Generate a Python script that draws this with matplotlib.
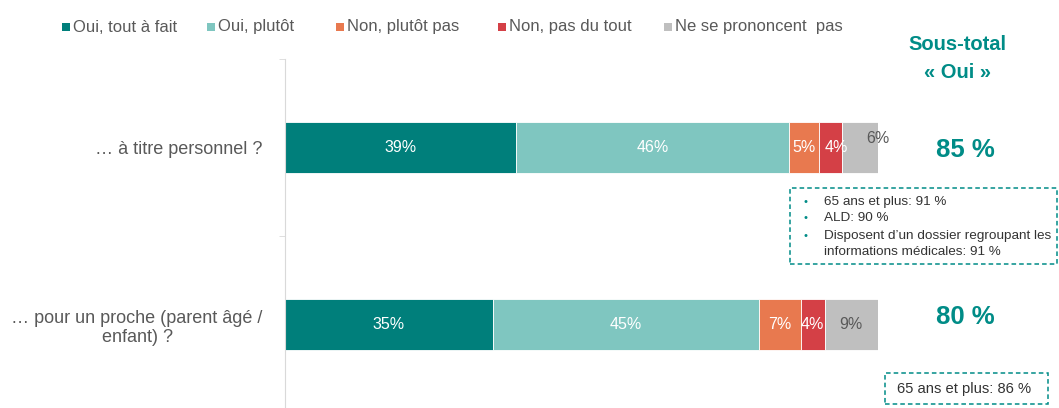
import matplotlib
matplotlib.use("Agg")
import matplotlib.pyplot as plt
from matplotlib.patches import Rectangle

plt.rcParams['font.family'] = ['Liberation Sans', 'DejaVu Sans']

categories = ["… à titre personnel ?", "… pour un proche (parent âgé /\nenfant) ?"]
series_names = ["Oui, tout à fait", "Oui, plutôt", "Non, plutôt pas", "Non, pas du tout", "Ne se prononcent  pas"]
oui_tout = [39, 35]
oui_plutot = [46, 45]
non_plutot = [5, 7]
non_pas = [4, 4]
nsp = [6, 9]
subtotals = ["85 %", "80 %"]
notes = [["65 ans et plus: 91 %", "ALD: 90 %", "Disposent d\u2019un dossier regroupant les\ninformations médicales: 91 %"],
         ["65 ans et plus: 86 %"]]

series = [oui_tout, oui_plutot, non_plutot, non_pas, nsp]
colors = ["#007F7B", "#7FC6C0", "#E8794F", "#D44046", "#BFBFBF"]
label_colors = ["white", "white", "white", "white", "#595959"]
teal = "#008C87"

W, H = 1059, 408
fig = plt.figure(figsize=(W / 100, H / 100), dpi=100)

def fx(px):
    return px / W

def fy(py):
    return 1 - py / H

ax_top, ax_bot = 59, 413.5
ax = fig.add_axes([fx(285), fy(ax_bot), fx(878) - fx(285), (ax_bot - ax_top) / H])
ax.set_xlim(0, 100)
ax.set_ylim(1.5, -0.5)

ypos = list(range(len(categories)))
left = [0] * len(categories)
for vals, col, lc in zip(series, colors, label_colors):
    ax.barh(ypos, vals, left=left, height=0.288, color=col, edgecolor="white", linewidth=0.6)
    for i, (v, l) in enumerate(zip(vals, left)):
        x = l + v / 2
        y = i
        if col == colors[4] and i == 0:
            x = l + v
            y = i - 0.05
        elif col == colors[3] and i == 0:
            x = l + v / 2 + 1.0
        ax.text(x, y, f"{v}%", ha="center", va="center", color=lc, fontsize=11.5)
    left = [a + b for a, b in zip(left, vals)]

for s in ["top", "right", "bottom"]:
    ax.spines[s].set_visible(False)
ax.spines["left"].set_color("#D9D9D9")
ax.set_xticks([])
ax.set_yticks(ypos)
ax.set_yticklabels(categories, fontsize=13, color="#595959", multialignment="center")
ax.tick_params(axis="y", which="major", length=0, pad=16)
ax.set_yticks([-0.5, 0.5, 1.5], minor=True)
ax.tick_params(axis="y", which="minor", length=4, color="#D9D9D9")

# Legend
leg_x = [62, 207, 336, 498, 664]
for name, col, x in zip(series_names, colors, leg_x):
    fig.add_artist(Rectangle((fx(x), fy(31)), fx(8), 8 / H, transform=fig.transFigure,
                             facecolor=col, edgecolor="none"))
    fig.text(fx(x + 11), fy(27), name, fontsize=12, color="#595959", va="center", ha="left")

# Sous-total header
fig.text(fx(957), fy(45), "Sous-total", fontsize=14.5, fontweight="bold", color=teal, ha="center", va="center")
fig.text(fx(957), fy(72), "\u00ab Oui \u00bb", fontsize=14.5, fontweight="bold", color=teal, ha="center", va="center")

# Subtotals
for st, py in zip(subtotals, [150, 317]):
    fig.text(fx(965), fy(py), st, fontsize=18.5, fontweight="bold", color=teal, ha="center", va="center")

# Note box 1
fig.add_artist(Rectangle((fx(790), fy(264)), fx(1057 - 790), (264 - 188) / H, transform=fig.transFigure,
                         facecolor="none", edgecolor=teal, linestyle=(0, (3, 2)), linewidth=1.1))
bullet_y = [202, 218, 236]
line_step = 16
for txt, py in zip(notes[0], bullet_y):
    fig.text(fx(805), fy(py), "\u2022", fontsize=8, color=teal, ha="center", va="center")
    for k, part in enumerate(txt.split("\n")):
        fig.text(fx(824), fy(py + k * line_step), part, fontsize=9.7, color="#333333",
                 ha="left", va="center")

# Note box 2
fig.add_artist(Rectangle((fx(885), fy(404)), fx(1048 - 885), (404 - 373) / H, transform=fig.transFigure,
                         facecolor="none", edgecolor=teal, linestyle=(0, (3, 2)), linewidth=1.1))
fig.text(fx(964), fy(389), notes[1][0], fontsize=10.6, color="#333333", ha="center", va="center")

fig.savefig("out.png", dpi=100)
